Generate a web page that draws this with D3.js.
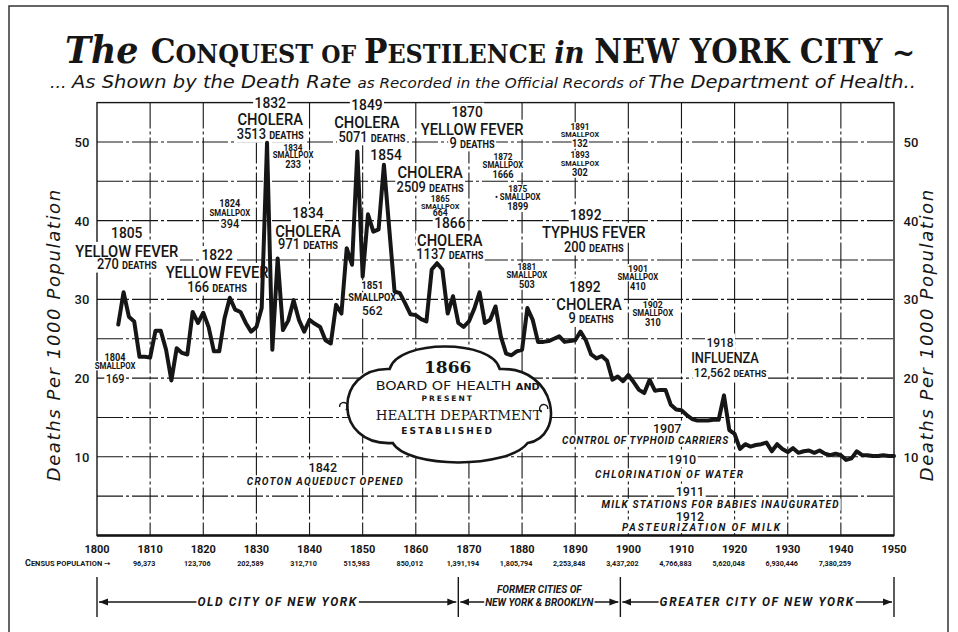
<!DOCTYPE html>
<html>
<head>
<meta charset="utf-8">
<script src="https://cdn.jsdelivr.net/npm/d3@7"></script>
<style>
  body { margin: 0; background: #fff; }
  svg { display: block; }
  .cond { font-family: Roboto, "DejaVu Sans", sans-serif; }
</style>
</head>
<body>
<div id="chart"></div>
<script>
// Death rate per 1000 population, one value a year from 1804 to 1950
const firstYear = 1804;
const rates = [
  26.8, 30.9, 27.8, 27.2, 22.7, 22.7,                               // 1804-1809
  22.6, 26.0, 26.0, 23.6, 19.7, 23.8, 23.2, 23.0, 28.4, 27.0,       // 1810s
  28.3, 26.5, 23.4, 23.4, 27.6, 30.2, 28.7, 28.4, 27.0, 25.9,       // 1820s
  26.5, 28.9, 49.9, 23.6, 35.2, 26.1, 27.3, 29.9, 27.4, 25.9,       // 1830s
  27.4, 26.9, 26.5, 24.8, 24.4, 29.3, 28.2, 36.5, 34.4, 48.8,       // 1840s
  32.9, 40.8, 38.6, 38.9, 47.1, 39.0, 31.0, 30.8, 29.5, 28.1,       // 1850s
  28.0, 27.5, 27.2, 33.8, 34.6, 33.8, 28.2, 30.4, 27.0, 26.5,       // 1860s
  27.2, 28.8, 30.9, 27.0, 27.4, 29.1, 25.3, 23.1, 22.9, 23.4,       // 1870s
  23.6, 28.9, 27.4, 24.6, 24.6, 24.7, 25.0, 25.3, 24.6, 24.7,       // 1880s
  24.8, 25.9, 24.8, 23.0, 22.5, 22.8, 22.2, 19.8, 20.2, 19.6,       // 1890s
  20.4, 19.5, 18.5, 18.1, 19.8, 18.4, 18.5, 18.5, 16.6, 16.0,       // 1900s
  15.9, 15.3, 14.8, 14.6, 14.6, 14.6, 14.7, 14.7, 17.8, 13.4,       // 1910s
  12.9, 11.0, 11.6, 11.3, 11.5, 11.6, 11.8, 10.7, 11.6, 11.0,       // 1920s
  10.6, 11.1, 10.5, 10.7, 10.8, 10.5, 10.8, 10.4, 10.2, 10.4,       // 1930s
  10.2, 9.6, 9.8, 10.7, 10.2, 10.2, 10.1, 10.1, 10.2, 10.1,         // 1940s
  10.1                                                               // 1950
];

const decades = [1800, 1810, 1820, 1830, 1840, 1850, 1860, 1870, 1880, 1890,
                 1900, 1910, 1920, 1930, 1940, 1950];
const yTicks = [10, 20, 30, 40, 50];
const censusYears = [1810, 1820, 1830, 1840, 1850, 1860, 1870, 1880, 1890,
                     1900, 1910, 1920, 1930, 1940];
const censusPop = ["96,373", "123,706", "202,589", "312,710", "515,983", "850,012",
                   "1,391,194", "1,805,794", "2,253,848", "3,437,202", "4,766,883",
                   "5,620,048", "6,930,446", "7,380,259"];
const cityPeriods = [
  { from: 1800, to: 1868, lines: ["OLD CITY OF NEW YORK"] },
  { from: 1868, to: 1898.5, lines: ["FORMER CITIES OF", "NEW YORK & BROOKLYN"] },
  { from: 1898.5, to: 1950, lines: ["GREATER CITY OF NEW YORK"] }
];

const W = 958, H = 632;
const ink = "#161616";
const squeeze = 0.92;   // hand-lettered labels are narrower than Roboto

const svg = d3.select("#chart").append("svg")
    .attr("width", W).attr("height", H);

svg.append("rect").attr("width", W).attr("height", H).attr("fill", "#fff");

// outer frame of the print
svg.append("path")
    .attr("d", `M9,${H} V6 H948 V${H}`)
    .attr("fill", "none").attr("stroke", "#333").attr("stroke-width", 1.5);

const x = d3.scaleLinear().domain([1800, 1950]).range([97, 894]);
const y = d3.scaleLinear().domain([0, 55]).range([535.5, 102.6]);

// grid
const grid = svg.append("g").attr("stroke", ink).attr("stroke-width", 1.1)
    .attr("stroke-dasharray", "26,3,3,3");

grid.selectAll(".h").data(d3.range(5, 55, 5)).join("line")
    .attr("x1", x(1800)).attr("x2", x(1950))
    .attr("y1", d => y(d)).attr("y2", d => y(d));

grid.selectAll(".v").data(decades.slice(1, -1)).join("line")
    .attr("x1", d => x(d)).attr("x2", d => x(d))
    .attr("y1", y(55)).attr("y2", y(0));

// frame of the plot
svg.append("rect")
    .attr("x", x(1800)).attr("y", y(55))
    .attr("width", x(1950) - x(1800)).attr("height", y(0) - y(55))
    .attr("fill", "none").attr("stroke", ink).attr("stroke-width", 1.4);
svg.append("line")
    .attr("x1", x(1800)).attr("x2", x(1950)).attr("y1", y(0)).attr("y2", y(0))
    .attr("stroke", ink).attr("stroke-width", 2.4);

// white patches behind labels go here, labels above them
const bgG = svg.append("g").attr("fill", "#fff");
const fgG = svg.append("g").attr("class", "cond").attr("fill", ink);

// put a text at px,py (optionally squeezed), with a white patch cut out of the grid
function place(px, py, sx, build, pad = 1.5) {
  const tf = `translate(${px},${py}) scale(${sx},1)`;
  const t = fgG.append("text").attr("transform", tf);
  build(t);
  const b = t.node().getBBox();
  bgG.append("rect").attr("transform", tf)
      .attr("x", b.x - pad).attr("y", b.y + 1 - pad)
      .attr("width", b.width + 2 * pad).attr("height", b.height - 2 + 2 * pad);
  return t;
}

// axis numbers
[82, 911].forEach(ax => {
  svg.append("g").attr("class", "cond").attr("font-size", 13).attr("font-weight", 500)
      .attr("fill", ink)
    .selectAll("text").data(yTicks).join("text")
      .attr("x", ax).attr("y", d => y(d) + 5)
      .attr("text-anchor", "middle").text(d => d);
});

[60, 933].forEach(cx => {
  svg.append("text")
      .attr("transform", `translate(${cx},${y(25.5)}) rotate(-90)`)
      .attr("text-anchor", "middle")
      .attr("font-family", "DejaVu Sans, sans-serif")
      .attr("font-style", "italic")
      .attr("font-size", 18).attr("letter-spacing", 1.6).attr("fill", ink)
      .text("Deaths Per 1000 Population");
});

svg.append("g").attr("class", "cond").attr("font-size", 11).attr("font-weight", "bold")
    .attr("fill", ink)
  .selectAll("text").data(decades).join("text")
    .attr("x", d => x(d)).attr("y", 553)
    .attr("text-anchor", "middle").text(d => d);

// census row
const census = svg.append("text").attr("class", "cond").attr("x", 25).attr("y", 566)
    .attr("font-size", 7.5).attr("font-weight", "bold").attr("fill", ink);
census.append("tspan").attr("font-size", 9).text("C");
census.append("tspan").text("ENSUS POPULATION →");

svg.append("g").attr("class", "cond").attr("font-size", 7.2).attr("font-weight", "bold")
    .attr("fill", ink)
  .selectAll("text").data(censusPop).join("text")
    .attr("x", (d, i) => x(censusYears[i]) - 6).attr("y", 566)
    .attr("text-anchor", "middle").text(d => d);

// city periods along the bottom
const defs = svg.append("defs");
defs.append("marker").attr("id", "arr").attr("viewBox", "0 0 10 10")
    .attr("refX", 10).attr("refY", 5).attr("markerWidth", 9).attr("markerHeight", 9)
    .attr("orient", "auto-start-reverse").attr("markerUnits", "userSpaceOnUse")
  .append("path").attr("d", "M0,1 L10,5 L0,9 Z").attr("fill", ink);

const bottom = svg.insert("g", () => bgG.node());
[1800, 1868, 1898.5, 1950].forEach(yr => {
  bottom.append("line").attr("x1", x(yr)).attr("x2", x(yr)).attr("y1", 577).attr("y2", 617)
      .attr("stroke", ink).attr("stroke-width", 1.4);
});
cityPeriods.forEach(p => {
  bottom.append("line")
      .attr("x1", x(p.from) + 2).attr("x2", x(p.to) - 2).attr("y1", 602).attr("y2", 602)
      .attr("stroke", ink).attr("stroke-width", 1.3)
      .attr("marker-start", "url(#arr)").attr("marker-end", "url(#arr)");
  p.lines.forEach((t, i) => {
    const single = p.lines.length === 1;
    place((x(p.from) + x(p.to)) / 2, 606 - (p.lines.length - 1 - i) * 13, 1, s => s
        .attr("text-anchor", "middle")
        .attr("font-size", single ? 12 : 10)
        .attr("font-style", "italic").attr("font-weight", "bold")
        .attr("letter-spacing", single ? 1.6 : 0)
        .text(t), 1);
  });
});

// annotations: anchor in chart units, lines as [segments], dy/dx in pixels
const notes = [
  { yr: 1832.6, v: 54.3, lines: [[["1832", 15]], [["CHOLERA", 16]], [["3513 ", 14], ["DEATHS", 10]]], dy: [0, 17, 14] },
  { yr: 1836.9, v: 48.9, lines: [[["1834", 9]], [["SMALLPOX", 8.5]], [["233", 10]]], dy: [0, 7.5, 10] },
  { yr: 1825.0, v: 41.7, lines: [[["1824", 10]], [["SMALLPOX", 8.5]], [["394", 12]]], dy: [0, 9, 12] },
  { yr: 1839.7, v: 40.3, lines: [[["1834", 15]], [["CHOLERA", 16]], [["971 ", 14], ["DEATHS", 10]]], dy: [0, 19, 12] },
  { yr: 1805.6, v: 37.8, lines: [[["1805", 15]], [["YELLOW FEVER", 16]], [["270 ", 14], ["DEATHS", 10]]], dy: [0, 19, 12] },
  { yr: 1822.6, v: 35.0, lines: [[["1822", 15]], [["YELLOW FEVER", 16]], [["166 ", 14], ["DEATHS", 10]]], dy: [0, 18, 14] },
  { yr: 1850.8, v: 54.1, lines: [[["1849", 15]], [["CHOLERA", 16]], [["5071 ", 14], ["DEATHS", 10]]], dy: [0, 18, 14], dx: [0, 0, 5] },
  { yr: 1854.4, v: 47.7, lines: [[["1854", 15]]], dy: [0] },
  { yr: 1862.7, v: 45.4, lines: [[["CHOLERA", 16]], [["2509 ", 14], ["DEATHS", 10]]], dy: [0, 14] },
  { yr: 1864.6, v: 42.4, lines: [[["1865", 9]], [["SMALLPOX", 8]], [["664", 9.5]]], dy: [0, 7, 7.5] },
  { yr: 1866.4, v: 39.1, lines: [[["1866", 15]], [["CHOLERA", 16]], [["1137 ", 14], ["DEATHS", 10]]], dy: [0, 18, 13] },
  { yr: 1870.6, v: 53.2, lines: [[["1870", 15]], [["YELLOW FEVER", 16]], [["9 ", 14], ["DEATHS", 10]]], dy: [0, 18, 13], dx: [-5, 0, 0] },
  { yr: 1876.4, v: 47.7, lines: [[["1872", 9]], [["SMALLPOX", 8.5]], [["1666", 10]]], dy: [0, 8, 10] },
  { yr: 1879.2, v: 43.6, lines: [[["1875", 9]], [["• SMALLPOX", 8.5]], [["1899", 10]]], dy: [0, 8, 10] },
  { yr: 1890.9, v: 51.5, lines: [[["1891", 9]], [["SMALLPOX", 8]], [["132", 10]], [["1893", 9]], [["SMALLPOX", 8]], [["302", 10]]], dy: [0, 7, 10, 11, 8, 10] },
  { yr: 1893.5, v: 40.1, lines: [[["1892", 15]], [["TYPHUS FEVER", 16]], [["200 ", 14], ["DEATHS", 10]]], dy: [0, 18, 14], dx: [-8, 0, 0] },
  { yr: 1880.9, v: 33.7, lines: [[["1881", 9]], [["SMALLPOX", 8.5]], [["503", 10]]], dy: [0, 8, 10] },
  { yr: 1892.6, v: 30.9, lines: [[["1892", 15]], [["CHOLERA", 16]], [["9 ", 14], ["DEATHS", 10]]], dy: [0, 18, 13], dx: [-4, 0, 2] },
  { yr: 1901.8, v: 33.5, lines: [[["1901", 9.5]], [["SMALLPOX", 8.5]], [["410", 10]]], dy: [0, 8, 10] },
  { yr: 1904.6, v: 28.9, lines: [[["1902", 9.5]], [["SMALLPOX", 8.5]], [["310", 10]]], dy: [0, 8, 10] },
  { yr: 1918.2, v: 24.0, lines: [[["1918", 13]], [["INFLUENZA", 14]], [["12,562 ", 13], ["DEATHS", 9.5]]], dy: [0, 16, 14], dx: [-5, 0, 5] },
  { yr: 1851.8, v: 31.3, lines: [[["1851", 10.5]], [["SMALLPOX", 10]], [["562", 13]]], dy: [0, 12, 14] },
  { yr: 1803.4, v: 22.2, lines: [[["1804", 10]], [["SMALLPOX", 8.5]], [["169", 12]]], dy: [0, 8, 14] }
];

const events = [
  { yr: 1842.5, v: 8.1, year: "1842", text: "CROTON AQUEDUCT OPENED", dx: 2, dy: 13, len: 156 },
  { yr: 1907.3, v: 13.0, year: "1907", text: "CONTROL OF TYPHOID CARRIERS", dx: -22, dy: 11, len: 166 },
  { yr: 1910.1, v: 9.1, year: "1910", text: "CHLORINATION OF WATER", dx: -13, dy: 14, len: 148 },
  { yr: 1911.6, v: 5.0, year: "1911", text: "MILK STATIONS FOR BABIES INAUGURATED", dx: 30, dy: 12, len: 237 },
  { yr: 1911.6, v: 1.9, year: "1912", text: "PASTEURIZATION OF MILK", dx: 11, dy: 10, len: 158 }
];

notes.forEach(n => {
  let yy = y(n.v);
  n.lines.forEach((segs, i) => {
    yy += n.dy[i];
    const px = x(n.yr) + (n.dx ? n.dx[i] : 0);
    place(px, yy, squeeze, t => {
      t.attr("text-anchor", "middle");
      segs.forEach(s => {
        t.append("tspan").attr("font-size", s[1])
            .attr("font-weight", s[1] < 11 ? "bold" : 500)
            .text(s[0]);
      });
    }, segs[0][1] < 11 ? 0.5 : 1.5);
  });
});

events.forEach(e => {
  place(x(e.yr), y(e.v), 1, t => t
      .attr("text-anchor", "middle").attr("font-size", 12.5).attr("font-weight", 500)
      .text(e.year));
  place(x(e.yr) + e.dx - e.len / 2, y(e.v) + e.dy, 1, t => t
      .attr("font-size", 10)
      .attr("font-style", "italic").attr("font-weight", "bold")
      .attr("textLength", e.len).attr("lengthAdjust", "spacing")
      .text(e.text));
});

// cloud for 1866 board of health
const cx = x(1866), cy = y(17.6);
const cloud = svg.append("g").attr("transform", `translate(${cx},${cy})`);
cloud.append("path")
    .attr("d", "M-58,-28 C-50,-58 45,-58 52,-28 C110,-30 118,40 80,46 C60,72 -40,72 -55,46 C-115,50 -115,-30 -58,-28 Z")
    .attr("fill", "#fff").attr("stroke", ink).attr("stroke-width", 2.6);
// little curls where the lobes meet
[[-108, 10, 1], [100, 12, -1]].forEach(c => {
  cloud.append("path")
      .attr("d", `M${c[0]},${c[1]} a4,4 0 1 ${c[2] > 0 ? 1 : 0} ${6 * c[2]},3`)
      .attr("fill", "none").attr("stroke", ink).attr("stroke-width", 1.4);
});
const ct = cloud.append("g").attr("text-anchor", "middle").attr("fill", ink);
ct.append("text").attr("y", -24).attr("font-family", "DejaVu Serif, serif")
    .attr("font-size", 17).attr("font-weight", "bold").text("1866");
const bh = ct.append("text").attr("x", -72).attr("y", -7).attr("text-anchor", "start")
    .attr("font-family", "DejaVu Sans, sans-serif").attr("font-size", 12.5)
    .attr("textLength", 164).attr("lengthAdjust", "spacingAndGlyphs");
bh.append("tspan").text("BOARD OF HEALTH ");
bh.append("tspan").attr("font-size", 8.5).attr("font-weight", "bold").text("AND");
ct.append("text").attr("y", 4).attr("font-family", "DejaVu Sans, sans-serif")
    .attr("font-size", 7.5).attr("font-weight", "bold")
    .attr("letter-spacing", 2).text("PRESENT");
ct.append("text").attr("x", -72).attr("y", 23).attr("text-anchor", "start")
    .attr("font-family", "DejaVu Serif, serif").attr("font-size", 13.5)
    .attr("textLength", 166).attr("lengthAdjust", "spacingAndGlyphs")
    .text("HEALTH DEPARTMENT");
ct.append("text").attr("y", 37).attr("font-family", "DejaVu Sans, sans-serif")
    .attr("font-size", 9).attr("font-weight", "bold")
    .attr("letter-spacing", 2.2).text("ESTABLISHED");

// the death rate line
const line = d3.line()
    .x((d, i) => x(firstYear + i))
    .y(d => y(d));
svg.append("path").datum(rates)
    .attr("d", line)
    .attr("fill", "none").attr("stroke", ink)
    .attr("stroke-width", 4).attr("stroke-linejoin", "round").attr("stroke-linecap", "round");

// title
const title = svg.append("text").attr("x", 65).attr("y", 63)
    .attr("font-family", "DejaVu Serif, serif").attr("font-weight", "bold").attr("fill", ink)
    .attr("textLength", 850).attr("lengthAdjust", "spacingAndGlyphs");
[["The ", 38, "italic"], ["C", 34], ["ONQUEST ", 26], ["OF ", 24], ["P", 34],
 ["ESTILENCE ", 26], ["in ", 30, "italic"], ["NEW YORK CITY", 33], [" ~", 30]]
  .forEach(s => {
    title.append("tspan").attr("font-size", s[1])
        .attr("font-style", s[2] || "normal").text(s[0]);
  });

const sub = svg.append("text").attr("x", 50).attr("y", 88)
    .attr("font-family", "DejaVu Sans, sans-serif").attr("font-style", "italic").attr("fill", ink)
    .attr("textLength", 866).attr("lengthAdjust", "spacingAndGlyphs");
[["... ", 16], ["As Shown by the Death Rate ", 18], ["as Recorded in the Official Records of ", 14],
 ["The Department of Health..", 18]]
  .forEach(s => {
    sub.append("tspan").attr("font-size", s[1]).text(s[0]);
  });
</script>
</body>
</html>
